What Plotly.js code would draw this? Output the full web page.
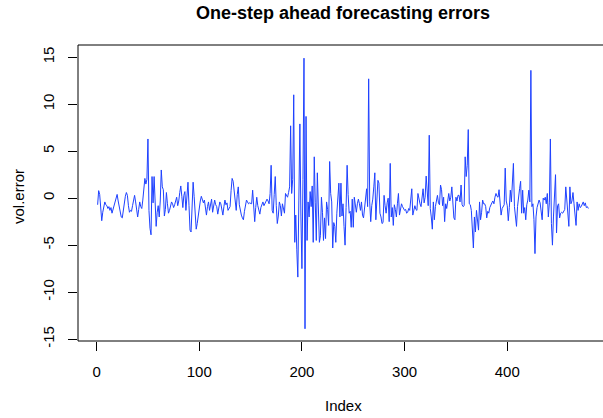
<!DOCTYPE html>
<html>
<head>
<meta charset="utf-8">
<script src="https://cdn.plot.ly/plotly-3.0.1.min.js"></script>
<style>
html, body { margin: 0; padding: 0; overflow: hidden; background: #fff; }
#chart { width: 608px; height: 418px; }
</style>
</head>
<body>
<div id="chart"></div>
<script>
// One-step ahead forecasting errors
const volError = [
  -0.7, 0.8, 0.4, -1.2, -2.4, -1.5, -0.9, -0.4, -0.7, -0.8,
  -1.1, -0.9, -1.3, -1.0, -1.6, -1.2, -0.6, -0.2, 0.2, 0.4,
  -0.3, -1.0, -1.6, -2.0, -2.1, -1.2, -0.4, 0.2, 0.6, 0.3,
  -0.8, -1.5, -1.3, -1.4, -0.8, -0.2, 0.3, -0.4, -1.4, -2.0,
  -1.2, -0.4, -0.9, -1.1, -0.2, 1.2, 2.1, 1.5, 2.0, 6.3,
  -1.3, -3.2, -3.9, 2.3, -0.5, 2.3, -1.8, -3.0, -1.5, -0.8,
  -2.0, -0.3, 3.0, 1.2, 0.9, -1.9, -1.2, 0.6, -0.6, -1.6,
  -1.3, -0.9, -0.4, -0.6, -1.0, -0.7, -0.2, 0.1, -0.8, -0.3,
  0.6, 1.3, 0.2, -1.0, 0.3, 0.7, -1.3, 0.4, 1.7, -0.8,
  -3.4, -3.6, -1.0, 1.7, 0.2, -1.5, -3.3, -2.7, -1.8, -1.0,
  -0.3, 0.2, -0.1, -0.5, -0.2, -1.0, -1.8, -0.9, -0.4, -1.3,
  -0.6, -0.1, -1.5, -0.8, -0.2, -0.7, -0.9, -1.7, -0.8, -0.4,
  -0.6, -1.1, -1.8, -0.9, -0.2, -0.7, -0.5, -1.3, -1.0, -0.9,
  0.8, 2.1, 1.8, 0.5, -0.6, -1.3, 0.4, 1.2, -0.7, -1.4,
  -1.8,
  -2.1, -2.3, -1.4, -0.5, -0.2, -0.4, -0.6, -0.5, -0.6, -0.6,
  0.85, -0.8, -2.5, -1.0, 0.1, -0.8, -1.2, -1.7, -1.0, -0.6,
  -0.4, -0.8, -0.5, -0.4, -0.1, -0.3, -0.6, 0.5, 3.5, -1.3,
  -1.6, 0.4, 2.3, -0.8, -2.7, -1.9, -0.4, -0.8, -1.9, -0.6,
  -1.0, -1.6, 0.5, 0.2, 0.1, 0.6, 1.2, 7.7, 0.5, 2.0,
  11.0, -4.7, -1.8, -5.5, -8.4, -0.2, 7.9, -2.0, -7.5, 2.0,
  14.9, -13.9, 8.7, -4.5, -0.4, -2.0, 0.7, -0.9, 1.3, -4.7,
  4.4, -0.5, -4.5, 2.7, -1.5, -4.7, -4.0, 0.1, -1.5, -4.5,
  -2.1, -4.3, -0.4, -1.2, -2.9, 3.9, 0.5, -0.4, -5.3, -2.6,
  -3.0, -4.7, -1.6, -0.3, 1.6, -2.0, 1.6, -1.9, -0.6, -3.0,
  -5.0, -1.0, 3.5, 0.4, -1.6, -1.4, -3.1, -0.1, -3.1, 0.1,
  -1.0, -1.5, -0.6, -0.1, -0.6, -1.3, -0.4, -1.8, -2.1, -1.1,
  -0.2, 1.0, -0.9, 12.7, -0.4, -2.5, -0.8, -0.1, 1.2, 2.7,
  -2.3, -0.5, 1.9, 1.6, -1.6, -2.0, -2.7, -2.6, 0.3, -0.8,
  -1.6, -0.5, 0.0, -2.5, 3.7, -2.0, -1.0, -2.9, -0.7, -1.2,
  -2.0, -0.6, 0.5, -1.8, -0.9, -0.6, -0.9, -1.1, -1.3, -1.2,
  -1.6, -1.5, -1.1, -1.3, -0.4, 1.0, -1.8, -1.2, -0.8, -1.2,
  -1.3, 0.5, -0.3, -0.6, -0.9, -0.2, 1.0, -0.5, 0.1, 2.35,
  0.3, -0.8, 6.7, -1.1, -2.0, -3.3, -0.4, -2.3, -0.9, 0.0,
  0.3, -0.5, -0.7, 1.4, 0.9, -0.8, 0.1, -2.5, -0.6, -1.1,
  -0.2, 0.5, -0.3, 0.1, 1.2, -0.8, -2.1, -2.3, 0.1, -0.3,
  0.3, 0.3, -0.4, 1.4, -0.7, -0.9, -0.8, 4.4, 2.3, 3.5,
  7.3, -0.6, -0.7, -1.3, -3.0, -5.3, -2.0, -3.6, -1.3, -2.4,
  -3.4, -0.4, -2.3, -1.5, -0.2, -0.6, -0.6, -0.9, -2.1, -1.4,
  -1.6, -1.0, -0.6, -0.5, -0.3, -0.6, 0.1, 0.5, 0.2, 0.1,
  0.9, -0.6, -1.8, -1.1, -0.9, -0.7, 3.2, -0.3, -0.8, -2.4,
  -1.0, 0.85, -0.4, 1.5, 3.7, -0.9, -2.0, -3.0, -0.9, 0.4,
  1.0,
  1.8, -1.6, 0.85, -1.6, -1.0, -2.3, -0.7, -0.2, 0.85, -0.4,
  13.6, -0.9, -0.6, -2.3, -5.9,
  -2.0, -1.0, -0.6, -0.2, -0.5, -1.3, -2.3, 0.0, -0.2, 0.1, -0.6,
  0.5, -2.0, -0.5, 6.3, -2.7, -5.0, -2.0, 1.0, 2.5, -3.7,
  -0.8, -0.6, -2.1, -1.6, -1.5, -1.6, -1.4, -1.2, 1.2, -0.2,
  -0.9, -3.0, 1.2, -0.6, -0.3, 0.6, -0.6, -2.0, -2.9, -0.4,
  -1.3, -0.6, -1.0, -0.9, -0.6, -0.4, -0.8, -0.5, -1.0, -0.9,
  -1.1
];
const index = volError.map((_, i) => i + 1);
const xTicks = [0, 100, 200, 300, 400];
const yTicks = [-15, -10, -5, 0, 5, 10, 15];

const n = volError.length;
const pad = 0.04 * (n - 1);
const font = 'Liberation Sans, Arial, Helvetica, sans-serif';

const trace = {
  x: index,
  y: volError,
  type: 'scatter',
  mode: 'lines',
  line: { color: 'rgb(30,65,255)', width: 1 },
  hoverinfo: 'x+y'
};

const axisCommon = {
  showgrid: false,
  zeroline: false,
  showline: false,
  ticks: 'outside',
  ticklen: 9,
  tickwidth: 1,
  tickcolor: '#000',
  tickfont: { family: font, size: 15, color: '#000' },
  fixedrange: true
};

const layout = {
  width: 608,
  height: 418,
  margin: { l: 78, r: 0, t: 45, b: 77 },
  paper_bgcolor: '#fff',
  plot_bgcolor: '#fff',
  showlegend: false,
  title: {
    text: '<b>One-step ahead forecasting errors</b>',
    font: { family: font, size: 18, color: '#000' },
    x: 0.5, xref: 'paper', xanchor: 'center',
    y: 1 - 13 / 418, yref: 'container', yanchor: 'middle'
  },
  xaxis: Object.assign({}, axisCommon, {
    range: [1 - pad, n + pad],
    tickvals: xTicks,
    ticktext: xTicks.map(String),
    ticklabelstandoff: 8
  }),
  yaxis: Object.assign({}, axisCommon, {
    range: [-15.2, 16.3],
    tickvals: yTicks,
    ticktext: yTicks.map(String),
    tickangle: -90,
    ticklabelstandoff: 8
  }),
  shapes: [{
    type: 'rect', xref: 'paper', yref: 'paper',
    x0: 0, x1: 1, y0: 0, y1: 1,
    line: { color: '#000', width: 1 }
  }],
  annotations: [
    {
      text: 'Index', xref: 'paper', yref: 'paper', x: 0.5, y: 0,
      xanchor: 'center', yanchor: 'middle', yshift: -64, showarrow: false,
      font: { family: font, size: 15, color: '#000' }
    },
    {
      text: 'vol.error', xref: 'paper', yref: 'paper', x: 0, y: 0.5,
      xanchor: 'center', yanchor: 'middle', xshift: -60, yshift: -4, textangle: -90, showarrow: false,
      font: { family: font, size: 15, color: '#000' }
    }
  ]
};

Plotly.newPlot('chart', [trace], layout, { displayModeBar: false, staticPlot: true });
</script>
</body>
</html>
